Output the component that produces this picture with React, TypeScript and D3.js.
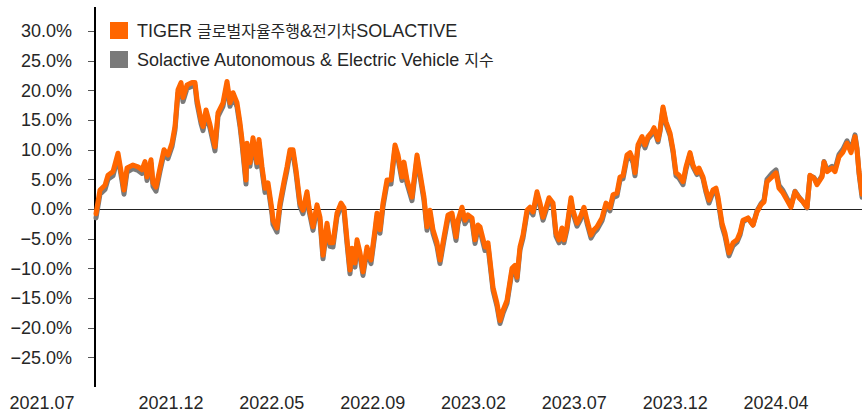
import React, { useEffect, useRef } from 'react';
import * as d3 from 'd3';

// trading-day index from 2021.07
const days = [
  0, 4, 9, 12, 17, 22, 26, 28, 31, 37, 42, 46, 49, 51, 55, 57, 60, 64, 68, 72,
  76, 79, 82, 85, 87, 91, 96, 99, 101, 105, 107, 110, 114, 119, 122, 127, 131, 134, 137, 141,
  144, 146, 150, 151, 154, 157, 161, 163, 166, 169, 172, 176, 177, 181, 184, 188, 191, 194, 197, 200,
  204, 207, 211, 213, 217, 221, 224, 227, 231, 234, 237, 241, 245, 248, 251, 254, 256, 259, 261, 264,
  267, 271, 275, 279, 281, 284, 287, 291, 295, 299, 302, 306, 308, 311, 316, 321, 324, 328, 331, 334,
  337, 341, 344, 348, 352, 356, 360, 362, 366, 369, 372, 376, 379, 382, 384, 389, 392, 397, 401, 404,
  407, 411, 416, 419, 421, 424, 427, 431, 434, 437, 441, 444, 447, 450, 453, 457, 460, 463, 466, 468,
  471, 475, 477, 481, 484, 488, 491, 495, 498, 501, 506, 510, 514, 517, 521, 524, 527, 531, 534, 537,
  539, 542, 546, 549, 552, 556, 558, 562, 564, 567, 570, 574, 577, 580, 583, 587, 590, 594, 597, 601,
  603, 607, 610, 613, 617, 620, 622, 626, 629, 633, 637, 641, 644, 647, 652, 657, 661, 665, 668, 671,
  676, 680, 683, 687, 691, 695, 699, 703, 707, 711, 714, 718, 721, 726, 728, 731, 736, 739, 743, 747,
  751, 755, 759, 761, 763, 766
];

// TIGER 글로벌자율주행&전기차SOLACTIVE (%)
const tigerValues = [
  -0.8, 3.2, 4.0, 5.7, 6.3, 9.4, 5.4, 3.2, 6.9, 7.4, 7.1, 6.6, 8.0, 5.4, 8.3, 4.4, 3.7, 6.9, 10.0, 9.1,
  11.1, 13.9, 20.1, 21.3, 18.8, 20.9, 21.3, 21.3, 18.4, 15.0, 13.9, 16.7, 14.2, 10.5, 16.2, 17.9, 21.5, 17.9, 19.6, 17.9,
  14.5, 11.7, 4.9, 11.1, 7.8, 12.0, 7.8, 11.7, 7.1, 3.5, 4.4, -0.2, -1.9, -3.2, 1.0, 4.6, 7.1, 10.0, 10.0, 6.6,
  1.0, -0.2, 2.9, 0.3, -3.0, 0.7, -1.4, -7.8, -2.4, -5.7, -5.7, -0.7, 1.0, 0.2, -5.2, -10.3, -6.6, -9.1, -5.2, -7.4,
  -10.6, -6.4, -8.6, -3.5, -0.7, -3.5, 1.0, 4.9, 4.9, 10.8, 9.1, 5.4, 7.9, 4.9, 2.0, 9.1, 6.1, 2.0, -3.0, -0.2,
  -3.5, -5.7, -8.6, -4.7, -1.0, -0.7, -4.7, -1.9, 0.3, -1.9, -1.0, -1.5, -5.2, -2.7, -3.0, -6.4, -5.7, -13.2, -15.9, -18.8,
  -17.1, -15.4, -10.0, -9.5, -11.5, -6.4, -4.4, -0.2, 0.3, -0.5, 2.9, 1.0, -1.4, 0.2, 1.9, 1.0, -4.1, -5.2, -3.2, -5.2,
  -3.0, 1.9, -0.2, -2.4, -1.5, 0.3, -1.9, -4.4, -3.5, -3.0, -1.5, 1.0, 0.2, 2.4, 2.7, 5.4, 5.6, 9.1, 9.5, 8.3,
  6.1, 10.8, 12.2, 10.8, 12.2, 13.0, 13.7, 11.7, 13.3, 17.2, 14.7, 12.8, 10.0, 6.1, 5.7, 4.6, 7.1, 9.5, 7.4, 6.1,
  6.9, 5.4, 3.2, 1.5, 3.2, 3.5, 2.0, -2.4, -4.1, -7.4, -5.7, -5.2, -4.0, -1.9, -1.5, -2.7, -0.5, 0.7, 1.2, 4.6,
  5.4, 6.1, 3.5, 2.7, 1.5, 0.3, 2.9, 1.9, 1.2, 0.3, 5.7, 5.2, 4.1, 5.4, 7.9, 6.3, 6.9, 6.3, 8.8, 9.6,
  11.1, 9.5, 12.2, 10.0, 6.3, 2.5
];

// Solactive Autonomous & Electric Vehicle 지수 (%)
const indexValues = [
  -1.5, 2.5, 3.3, 5.0, 5.6, 8.8, 4.7, 2.5, 6.2, 6.8, 6.5, 6.0, 7.4, 4.8, 7.7, 3.8, 3.0, 6.3, 9.3, 8.5,
  10.5, 13.3, 19.5, 20.7, 18.1, 20.3, 20.7, 20.8, 17.8, 14.4, 13.2, 16.1, 13.6, 9.8, 15.6, 17.3, 20.9, 17.3, 19.0, 17.2,
  13.9, 11.0, 4.2, 10.5, 7.2, 11.4, 7.1, 11.1, 6.5, 2.8, 3.8, -0.9, -2.6, -3.9, 0.4, 4.0, 6.5, 9.4, 9.4, 6.0,
  0.4, -0.8, 2.3, -0.3, -3.6, 0.1, -2.0, -8.4, -3.0, -6.3, -6.4, -1.3, 0.4, -0.4, -5.8, -10.9, -7.2, -9.8, -5.8, -8.0,
  -11.2, -7.0, -9.2, -4.1, -1.3, -4.1, 0.4, 4.3, 4.2, 10.2, 8.5, 4.8, 7.3, 4.3, 1.4, 8.5, 5.5, 1.4, -3.6, -0.8,
  -4.1, -6.3, -9.2, -5.3, -1.6, -1.3, -5.3, -2.5, -0.3, -2.5, -1.6, -2.1, -5.8, -3.3, -3.6, -7.0, -6.3, -13.7, -16.4, -19.3,
  -17.6, -15.9, -10.5, -10.0, -12.0, -6.9, -4.9, -0.7, -0.2, -1.0, 2.4, 0.5, -1.9, -0.3, 1.4, 0.5, -4.6, -5.7, -3.7, -5.7,
  -3.5, 1.4, -0.7, -2.9, -2.0, -0.2, -2.4, -4.9, -4.0, -3.5, -2.0, 0.5, -0.3, 1.9, 2.2, 4.9, 5.1, 8.6, 9.0, 7.8,
  5.6, 10.3, 11.7, 10.3, 11.8, 12.6, 13.4, 11.3, 13.0, 16.9, 14.3, 12.4, 9.6, 5.6, 5.2, 4.1, 6.7, 9.2, 7.1, 5.8,
  6.6, 5.1, 2.8, 1.0, 2.8, 3.1, 1.5, -2.9, -4.6, -7.9, -6.2, -5.6, -4.4, -2.2, -1.6, -2.7, -0.3, 0.9, 1.5, 5.0,
  6.0, 6.6, 4.0, 3.1, 1.8, 0.5, 3.0, 2.0, 1.2, 0.2, 5.6, 5.3, 4.3, 5.6, 8.0, 6.6, 7.2, 6.7, 9.2, 10.1,
  11.5, 9.9, 12.5, 10.2, 6.0, 2.0
];

const yTicks = [30, 25, 20, 15, 10, 5, 0, -5, -10, -15, -20, -25];
const xLabels = ['2021.07', '2021.12', '2022.05', '2022.09', '2023.02', '2023.07', '2023.12', '2024.04'];

const seriesNames = ['TIGER 글로벌자율주행&전기차SOLACTIVE', 'Solactive Autonomous & Electric Vehicle 지수'];
const seriesColors = ['#ff6600', '#7a7a7a'];

const FONT = '"Liberation Sans", Arial, "Noto Sans CJK KR", sans-serif';

// split a label into hangul / non-hangul runs so each can get its own size
const splitRuns = s => {
  const runs = [];
  for (const ch of s) {
    const k = /[\uac00-\ud7a3]/.test(ch);
    if (runs.length && runs[runs.length - 1].k === k) runs[runs.length - 1].t += ch;
    else runs.push({ k, t: ch });
  }
  return runs;
};

const App = () => {
  const container = useRef(null);
  const width = 862;
  const height = 412;

  const margins = { l: 95, t: 7, r: 0 };

  useEffect(() => {
    document.body.style.margin = '0';
    createChart();
  }, []);

  const createChart = () => {
    const svg = d3
      .select(container.current)
      .selectAll('svg')
      .data([0])
      .join('svg')
      .attr('width', width)
      .attr('height', height)
      .style('display', 'block')
      .style('font-family', FONT);

    const xScale = d3
      .scaleLinear()
      .domain([0, 766])
      .range([margins.l + 1, width]);

    const yScale = d3
      .scaleLinear()
      .domain([-30, 30])
      .range([387, 31]);

    // y axis
    const yaxisg = svg
      .selectAll('.yaxisg')
      .data([0])
      .join('g')
      .attr('class', 'yaxisg');

    yaxisg
      .selectAll('.tick-line')
      .data(yTicks)
      .join('line')
      .attr('class', 'tick-line')
      .attr('x1', margins.l - 7)
      .attr('x2', margins.l)
      .attr('y1', d => Math.round(yScale(d)) + 0.5)
      .attr('y2', d => Math.round(yScale(d)) + 0.5)
      .style('stroke', '#555')
      .style('stroke-width', 1);

    yaxisg
      .selectAll('.tick-text')
      .data(yTicks)
      .join('text')
      .attr('class', 'tick-text')
      .attr('x', 72)
      .attr('y', d => yScale(d))
      .attr('dy', '0.35em')
      .attr('text-anchor', 'end')
      .style('font-size', '18px')
      .style('fill', '#262626')
      .text(d => (d < 0 ? '\u2212' : '') + Math.abs(d).toFixed(1) + '%');

    yaxisg
      .selectAll('.domain-line')
      .data([0])
      .join('line')
      .attr('class', 'domain-line')
      .attr('x1', margins.l)
      .attr('x2', margins.l)
      .attr('y1', margins.t)
      .attr('y2', yScale(-30))
      .style('stroke', '#000')
      .style('stroke-width', 2);

    // zero line
    svg
      .selectAll('.zero-line')
      .data([0])
      .join('line')
      .attr('class', 'zero-line')
      .attr('x1', margins.l)
      .attr('x2', width)
      .attr('y1', Math.round(yScale(0)) + 0.5)
      .attr('y2', Math.round(yScale(0)) + 0.5)
      .style('stroke', '#222')
      .style('stroke-width', 1);

    // series
    const line = d3
      .line<number>()
      .x((d, i) => xScale(days[i]))
      .y(d => yScale(d))
      .curve(d3.curveLinear);

    const plotg = svg
      .selectAll('.plotg')
      .data([0])
      .join('g')
      .attr('class', 'plotg');

    plotg
      .selectAll('.series-line')
      .data([indexValues, tigerValues])
      .join('path')
      .attr('class', 'series-line')
      .attr('d', d => line(d))
      .style('fill', 'none')
      .style('stroke', (d, i) => (i === 0 ? seriesColors[1] : seriesColors[0]))
      .style('stroke-width', 5)
      .style('stroke-linejoin', 'round')
      .style('stroke-linecap', 'round');

    // x labels
    const xLabelScale = d3
      .scaleLinear()
      .domain([0, 1, xLabels.length - 1])
      .range([42, 171, 776]);

    svg
      .selectAll('.x-label')
      .data(xLabels)
      .join('text')
      .attr('class', 'x-label')
      .attr('x', (d, i) => xLabelScale(i))
      .attr('y', 409)
      .attr('text-anchor', 'middle')
      .style('font-size', '18px')
      .style('fill', '#262626')
      .text(d => d);

    // legend
    const legendg = svg
      .selectAll('.legendg')
      .data(seriesNames)
      .join('g')
      .attr('class', 'legendg')
      .attr('transform', (d, i) => `translate(110,${22 + i * 29})`);

    legendg
      .selectAll('rect')
      .data((d, i) => [i])
      .join('rect')
      .attr('width', 18)
      .attr('height', 17)
      .style('fill', i => seriesColors[i]);

    legendg
      .selectAll('text')
      .data(d => [d])
      .join('text')
      .attr('x', 27)
      .attr('y', 15)
      .style('fill', '#262626')
      .selectAll('tspan')
      .data(d => splitRuns(d))
      .join('tspan')
      .style('font-size', r => (r.k ? '16px' : '18px'))
      .text(r => r.t);
  };

  return <div className="chart-container" ref={container}></div>;
};

export default App;
